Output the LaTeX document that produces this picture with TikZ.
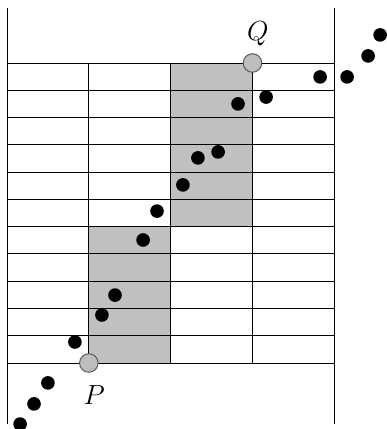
\documentclass[tikz,border=0pt]{standalone}
\usepackage{amsmath}
\usepackage{xcolor}
\usetikzlibrary{positioning}
\definecolor{cellgray}{HTML}{C0C0C0}
\definecolor{ptgray}{HTML}{BDBDBD}
\definecolor{edgegray}{HTML}{555555}
\tikzset{gridline/.style={line width=.5pt, color=black}, cell/.style={fill=cellgray}, dot/.style={fill=black}, endpt/.style={circle, inner sep=0pt, minimum size=3.4mm, fill=ptgray, draw=edgegray, line width=.5pt}, lab/.style={font=\Large}}
\begin{document}
\begin{tikzpicture}[x=.5cm,y=.5cm]
\useasboundingbox (-0.257,-2.42) rectangle (13.93,13.31);
\fill[cell] (3,0) rectangle (6,5); \fill[cell] (6,5) rectangle (9,11);
\draw[gridline] (0,0) grid[xstep=3,ystep=1] (12,11);
\draw[gridline] (0,-2.24)--(0,13.02); \draw[gridline] (12,-2.24)--(12,13.02);
% points near the segment
\fill[dot] (13.68,12.03) circle (.25); \fill[dot] (13.24,11.26) circle (.25); \fill[dot] (12.47,10.49) circle (.25); \fill[dot] (11.48,10.49) circle (.25);
\fill[dot] (9.50,9.75) circle (.25); \fill[dot] (8.47,9.50) circle (.25); \fill[dot] (7.74,7.74) circle (.25); \fill[dot] (7.00,7.52) circle (.25);
\fill[dot] (6.45,6.53) circle (.25); \fill[dot] (5.50,5.57) circle (.25); \fill[dot] (4.99,4.51) circle (.25); \fill[dot] (3.96,2.49) circle (.25);
\fill[dot] (3.48,1.76) circle (.25); \fill[dot] (2.49,0.77) circle (.25); \fill[dot] (1.50,-0.73) circle (.25); \fill[dot] (0.99,-1.50) circle (.25);
\fill[dot] (0.48,-2.24) circle (.25);
\node[endpt] (P) at (3,0) {}; \node[endpt] (Q) at (9,11) {};
\node[lab, below=1.2mm of P, xshift=1mm] (Plab) {$P$};
\node[lab, above=0.2mm of Q, xshift=1mm] (Qlab) {$Q$};
\end{tikzpicture}
\end{document}
